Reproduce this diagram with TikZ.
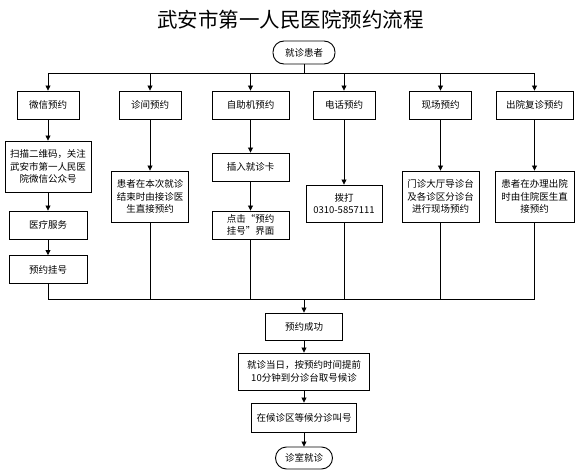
\documentclass[tikz,border=0pt]{standalone}
\usepackage{fontspec}
\usetikzlibrary{arrows.meta}
\newfontfamily\cjk{Noto Sans CJK SC}
\begin{document}
\begin{tikzpicture}[x=1pt,y=-1pt,
  box/.style={draw,line width=0.9pt,inner sep=0pt,align=center,font=\cjk\fontsize{9.5}{12.5}\selectfont},
  sbox/.style 2 args={box,minimum width=#1,minimum height=#2},
  term/.style={box,rounded corners=11pt,minimum width=#1,minimum height=23pt},
  arr/.style={-{Triangle[length=5pt,width=5pt]},line width=0.8pt},
  ln/.style={line width=0.8pt}]
\useasboundingbox (0,0) rectangle (579,471);
\node[font=\cjk\fontsize{20.5}{24}\selectfont] (title) at (290.5,20) {武安市第一人民医院预约流程};
\node[term=62pt] (start) at (304,52.5) {就诊患者};
\coordinate (top) at (304,73);
\node[sbox={62pt}{28pt}] (wx) at (48,105) {微信预约};
\node[sbox={62pt}{28pt}] (zj) at (150,105) {诊间预约};
\node[sbox={77pt}{28pt}] (zz) at (250.5,105) {自助机预约};
\node[sbox={62pt}{28pt}] (dh) at (344,105) {电话预约};
\node[sbox={62pt}{28pt}] (xc) at (440.5,105) {现场预约};
\node[sbox={77pt}{28pt}] (cy) at (534.5,105) {出院复诊预约};
\node[sbox={86pt}{51pt}] (wx1) at (48,166.5) {扫描二维码，关注\\武安市第一人民医\\院微信公众号};
\node[sbox={78pt}{28pt}] (wx2) at (48,225) {医疗服务};
\node[sbox={78pt}{28pt}] (wx3) at (48,269.5) {预约挂号};
\node[sbox={77pt}{51pt}] (zj1) at (150,196.5) {患者在本次就诊\\结束时由接诊医\\生直接预约};
\node[sbox={77pt}{28pt}] (zz1) at (250.5,167) {插入就诊卡};
\node[sbox={77pt}{28pt}] (zz2) at (250.5,225) {点击“预约\\挂号”界面};
\node[sbox={76pt}{37pt}] (dh1) at (344,203.5) {拨打\\0310-5857111};
\node[sbox={77pt}{51pt}] (xc1) at (440.5,196.5) {门诊大厅导诊台\\及各诊区分诊台\\进行现场预约};
\node[sbox={79pt}{51pt}] (cy1) at (534.5,196.5) {患者在办理出院\\时由住院医生直\\接预约};
\coordinate (bot) at (304,299);
\node[sbox={77pt}{27pt}] (ok) at (304,326.5) {预约成功};
\node[sbox={131pt}{37pt}] (day) at (304,371.5) {就诊当日，按预约时间提前\\10分钟到分诊台取号候诊};
\node[sbox={105pt}{29pt}] (wait) at (304,417.5) {在候诊区等候分诊叫号};
\node[term=57pt,minimum height=22pt] (end) at (304,458) {诊室就诊};
\draw[ln] (start) -- (top);
\draw[ln] (wx |- top) -- (cy |- top);
\foreach \n in {wx,zj,zz,dh,xc,cy}
  \draw[arr] (\n |- top) -- (\n);
\draw[arr] (wx) -- (wx1);
\draw[arr] (wx1) -- (wx2);
\draw[arr] (wx2) -- (wx3);
\draw[arr] (zj) -- (zj1);
\draw[arr] (zz) -- (zz1);
\draw[arr] (zz1) -- (zz2);
\draw[arr] (dh) -- (dh1);
\draw[arr] (xc) -- (xc1);
\draw[arr] (cy) -- (cy1);
\foreach \n in {wx3,zj1,zz2,dh1,xc1,cy1}
  \draw[ln] (\n) -- (\n |- bot);
\draw[ln] (wx3 |- bot) -- (cy1 |- bot);
\draw[arr] (bot) -- (ok);
\draw[arr] (ok) -- (day);
\draw[arr] (day) -- (wait);
\draw[arr] (wait) -- (end);
\end{tikzpicture}
\end{document}
